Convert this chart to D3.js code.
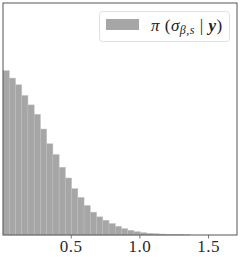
<!DOCTYPE html>
<html>
<head>
<meta charset="utf-8">
<script src="https://cdn.jsdelivr.net/npm/d3@7"></script>
<style>
  body { margin: 0; background: #fff; }
  svg { display: block; }
</style>
</head>
<body>
<div id="chart"></div>
<script>
// histogram of posterior draws, density per bin
var binStart = 0.007;
var binWidth = 0.0454;
var densities = [2.45, 2.34, 2.24, 2.08, 1.94, 1.80, 1.58, 1.36, 1.20, 1.01,
                 0.85, 0.69, 0.56, 0.44, 0.34, 0.27, 0.22, 0.17, 0.13, 0.094,
                 0.070, 0.049, 0.034, 0.025, 0.019, 0.014, 0.010, 0.007, 0.005, 0.003];
var tickValues = [0.5, 1.0, 1.5];
var xDomain = [0.007, 1.711];
var yDomain = [0, 3.46];

var drawChart = function(){

    var barFill = "#a6a6a6";
    var frameColor = "#555555";

    var width = 241, height = 257;
    var m = {left: 3, right: 237, top: 3, bottom: 235};

    var svg = d3.select("#chart")
        .append("svg")
        .attr("width", width)
        .attr("height", height);

    var x = d3.scaleLinear().domain(xDomain).range([m.left, m.right]);
    var y = d3.scaleLinear().domain(yDomain).range([m.bottom, m.top]);

    // bars
    svg.append("g")
        .selectAll("rect")
        .data(densities)
        .enter().append("rect")
        .attr("x", function(d, i){ return x(binStart + i * binWidth); })
        .attr("width", function(d, i){ return x(binStart + (i + 1) * binWidth) - x(binStart + i * binWidth); })
        .attr("y", function(d){ return y(d); })
        .attr("height", function(d){ return y(0) - y(d); })
        .attr("fill", barFill)
        .attr("stroke", "#bdbdbd")
        .attr("stroke-width", 0.5);

    // x axis
    var xAxis = d3.axisBottom(x)
        .tickValues(tickValues)
        .tickSize(3.5)
        .tickFormat(d3.format(".1f"));

    var gx = svg.append("g")
        .attr("transform", "translate(0," + m.bottom + ")")
        .call(xAxis);
    gx.select(".domain").remove();
    gx.selectAll(".tick line").attr("stroke", frameColor).attr("stroke-width", 0.8);
    gx.selectAll(".tick text")
        .attr("y", 5)
        .attr("fill", "#2a2a2a")
        .style("font-family", "'Liberation Serif', serif")
        .style("font-size", "17px")
        .style("letter-spacing", "0.5px");

    // frame
    svg.append("rect")
        .attr("x", m.left)
        .attr("y", m.top)
        .attr("width", m.right - m.left)
        .attr("height", m.bottom - m.top)
        .attr("fill", "none")
        .attr("stroke", frameColor)
        .attr("stroke-width", 1);

    // legend
    var legend = svg.append("g");
    legend.append("rect")
        .attr("x", 99.5).attr("y", 11.5)
        .attr("width", 130).attr("height", 30)
        .attr("rx", 3)
        .attr("fill", "#fff")
        .attr("fill-opacity", 0.8)
        .attr("stroke", "#d9d9d9")
        .attr("stroke-width", 0.8);
    legend.append("rect")
        .attr("x", 106).attr("y", 19)
        .attr("width", 33).attr("height", 11)
        .attr("fill", barFill);

    var label = legend.append("text")
        .attr("x", 151)
        .attr("y", 30.5)
        .attr("fill", "#222")
        .style("font-family", "'Liberation Serif', serif")
        .style("font-size", "17px")
        .style("letter-spacing", "0.5px");
    label.append("tspan").style("font-style", "italic").text("π");
    label.append("tspan").text(" (");
    label.append("tspan").style("font-style", "italic").text("σ");
    label.append("tspan").attr("dy", 3.5).style("font-size", "12px").style("font-style", "italic").text("β,s");
    label.append("tspan").attr("dy", -3.5).text(" | ");
    label.append("tspan").style("font-style", "italic").style("font-weight", "bold").text("y");
    label.append("tspan").text(")");
};

drawChart();
</script>
</body>
</html>
